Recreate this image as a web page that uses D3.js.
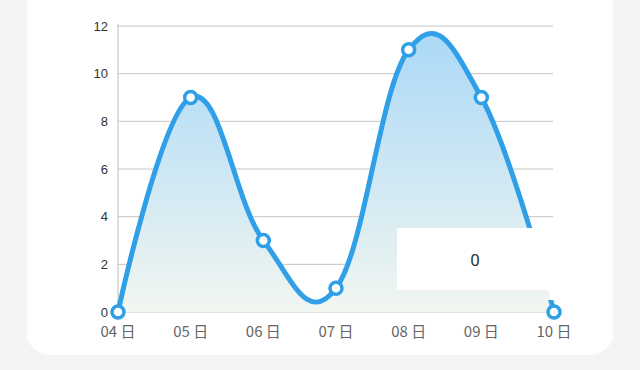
<!DOCTYPE html>
<html><head><meta charset="utf-8">
<script src="https://cdn.jsdelivr.net/npm/d3@7"></script>
<style>html,body{margin:0;padding:0;background:#f4f4f4;}svg{display:block;}</style>
</head><body>
<svg id="c" width="640" height="370"></svg>
<script>
const categories = ["04 日","05 日","06 日","07 日","08 日","09 日","10 日"];
const values = [0, 9, 3, 1, 11, 9, 0];
const yTicks = [0, 2, 4, 6, 8, 10, 12];
const tooltipText = "0";

const svg = d3.select("#c");
svg.append("rect").attr("x",27).attr("y",-30).attr("width",586).attr("height",385).attr("rx",22).attr("fill","#ffffff");

const x = d3.scalePoint().domain(categories).range([118, 554]);
const y = d3.scaleLinear().domain([0, 12]).range([312, 26]);

const defs = svg.append("defs");
const grad = defs.append("linearGradient").attr("id","g")
  .attr("gradientUnits","userSpaceOnUse").attr("x1",0).attr("y1",y(12)).attr("x2",0).attr("y2",y(0));
grad.append("stop").attr("offset","0%").attr("stop-color","#a9d8f7");
grad.append("stop").attr("offset","100%").attr("stop-color","#f1f6f1");
const mask = defs.append("mask").attr("id","m").attr("maskUnits","userSpaceOnUse")
  .attr("x",0).attr("y",0).attr("width",640).attr("height",370);
mask.append("rect").attr("x",0).attr("y",0).attr("width",640).attr("height",370).attr("fill","#fff");
mask.append("rect").attr("x",397).attr("y",228).attr("width",163).attr("height",72).attr("fill","#000");

// grid
svg.append("g").selectAll("line").data(yTicks).join("line")
  .attr("x1",118).attr("x2",553).attr("y1",d=>y(d)).attr("y2",d=>y(d))
  .attr("stroke","#c4c4c4").attr("stroke-width",1);
svg.append("line").attr("x1",118).attr("x2",118).attr("y1",24).attr("y2",312).attr("stroke","#bcbcbc");

svg.append("g").selectAll("text").data(yTicks).join("text")
  .attr("x",108).attr("y",d=>y(d)+4.5).attr("text-anchor","end")
  .attr("font-family","'Liberation Sans', sans-serif").attr("font-size",13).attr("fill","#333").text(d=>d);

svg.append("g").selectAll("text").data(categories).join("text")
  .attr("x",d=>x(d)).attr("y",337).attr("text-anchor","middle")
  .attr("font-family","'Noto Sans CJK SC', sans-serif").attr("font-size",15).attr("fill","#666").text(d=>d);

const curve = d3.curveCardinal.tension(-0.2);
const area = d3.area().x((d,i)=>x(categories[i])).y0(y(0)).y1(d=>y(d)).curve(curve);
const line = d3.line().x((d,i)=>x(categories[i])).y(d=>y(d)).curve(curve);

svg.append("path").datum(values).attr("d",area).attr("fill","url(#g)");
svg.append("path").datum(values).attr("d",line).attr("fill","none").attr("stroke","#2f9fe8").attr("stroke-width",5).attr("stroke-linecap","round").attr("mask","url(#m)");

svg.append("g").selectAll("circle").data(values).join("circle")
  .attr("cx",(d,i)=>x(categories[i])).attr("cy",d=>y(d)).attr("r",6)
  .attr("fill","#fff").attr("stroke","#2f9fe8").attr("stroke-width",3.5);

// tooltip box
svg.append("rect").attr("x",397).attr("y",228).attr("width",163).attr("height",62).attr("fill","#ffffff");
svg.append("text").attr("x",475).attr("y",266).attr("text-anchor","middle")
  .attr("font-family","Roboto, sans-serif").attr("font-size",17).attr("fill","#333").text(tooltipText);
</script>
</body></html>
